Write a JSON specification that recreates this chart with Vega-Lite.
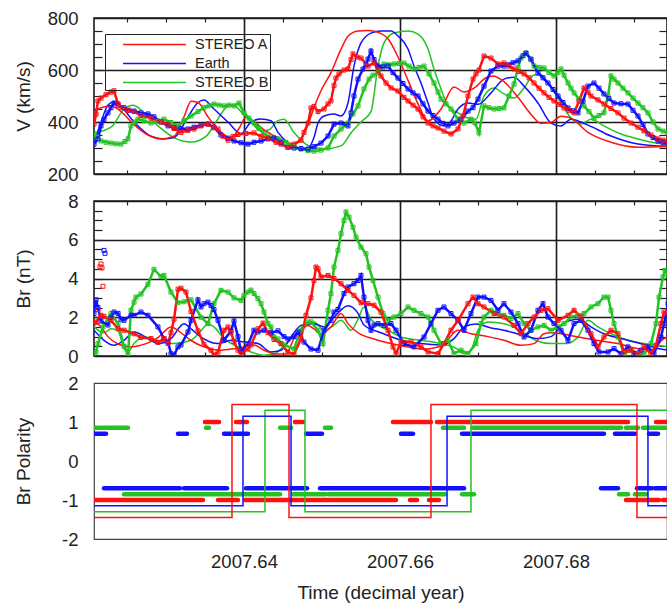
{
"$schema":"https://vega.github.io/schema/vega-lite/v6.json",
"padding":{"left":13,"top":8,"right":0,"bottom":0},
"background":"white",
"config":{
 "font":"Liberation Sans",
 "axis":{"labelFont":"Liberation Sans","titleFont":"Liberation Sans","labelColor":"#222","titleColor":"#222","labelFontSize":18.5,"titleFontSize":19,"titleFontWeight":"normal","tickColor":"#222","tickWidth":1.2,"gridColor":"#1a1a1a","gridWidth":1.6,"gridOpacity":1,"domain":false},
 "legend":{"labelFont":"Liberation Sans"}
},
"spacing":27,
"bounds":"flush",
"resolve":{"scale":{"color":"independent"},"legend":{"color":"independent"}},
"datasets":{
"vmod":[
{"s":"STEREO B","t":2007.62077,"v":358},{"s":"STEREO B","t":2007.62295,"v":380},{"s":"STEREO B","t":2007.62462,"v":449},{"s":"STEREO B","t":2007.62577,"v":464},{"s":"STEREO B","t":2007.62718,"v":436},{"s":"STEREO B","t":2007.62897,"v":385},{"s":"STEREO B","t":2007.63103,"v":340},{"s":"STEREO B","t":2007.63321,"v":323},{"s":"STEREO B","t":2007.63513,"v":345},{"s":"STEREO B","t":2007.63641,"v":400},{"s":"STEREO B","t":2007.63769,"v":455},{"s":"STEREO B","t":2007.63859,"v":465},{"s":"STEREO B","t":2007.63962,"v":440},{"s":"STEREO B","t":2007.6409,"v":400},{"s":"STEREO B","t":2007.64218,"v":365},{"s":"STEREO B","t":2007.64321,"v":370},{"s":"STEREO B","t":2007.64436,"v":405},{"s":"STEREO B","t":2007.64513,"v":411},{"s":"STEREO B","t":2007.64641,"v":360},{"s":"STEREO B","t":2007.64821,"v":310},{"s":"STEREO B","t":2007.65026,"v":296},{"s":"STEREO B","t":2007.65244,"v":308},{"s":"STEREO B","t":2007.65372,"v":358},{"s":"STEREO B","t":2007.655,"v":400},{"s":"STEREO B","t":2007.65628,"v":440},{"s":"STEREO B","t":2007.65718,"v":615},{"s":"STEREO B","t":2007.65795,"v":704},{"s":"STEREO B","t":2007.65923,"v":742},{"s":"STEREO B","t":2007.66103,"v":750},{"s":"STEREO B","t":2007.66231,"v":738},{"s":"STEREO B","t":2007.66359,"v":681},{"s":"STEREO B","t":2007.66436,"v":604},{"s":"STEREO B","t":2007.66526,"v":527},{"s":"STEREO B","t":2007.66615,"v":462},{"s":"STEREO B","t":2007.66744,"v":435},{"s":"STEREO B","t":2007.66872,"v":415},{"s":"STEREO B","t":2007.66974,"v":411},{"s":"STEREO B","t":2007.67077,"v":500},{"s":"STEREO B","t":2007.67205,"v":531},{"s":"STEREO B","t":2007.67333,"v":508},{"s":"STEREO B","t":2007.67462,"v":492},{"s":"STEREO B","t":2007.6759,"v":531},{"s":"STEREO B","t":2007.67718,"v":581},{"s":"STEREO B","t":2007.67808,"v":582},{"s":"STEREO B","t":2007.67897,"v":550},{"s":"STEREO B","t":2007.68064,"v":473},{"s":"STEREO B","t":2007.68192,"v":415},{"s":"STEREO B","t":2007.68321,"v":392},{"s":"STEREO B","t":2007.68449,"v":411},{"s":"STEREO B","t":2007.68615,"v":385},{"s":"STEREO B","t":2007.68833,"v":354},{"s":"STEREO B","t":2007.69051,"v":335},{"s":"STEREO B","t":2007.69308,"v":318},{"s":"STEREO B","t":2007.69436,"v":315},
{"s":"Earth","t":2007.62077,"v":318},{"s":"Earth","t":2007.62167,"v":400},{"s":"Earth","t":2007.62256,"v":465},{"s":"Earth","t":2007.62333,"v":478},{"s":"Earth","t":2007.62423,"v":460},{"s":"Earth","t":2007.6259,"v":400},{"s":"Earth","t":2007.62808,"v":345},{"s":"Earth","t":2007.62974,"v":335},{"s":"Earth","t":2007.63103,"v":340},{"s":"Earth","t":2007.63282,"v":420},{"s":"Earth","t":2007.6341,"v":475},{"s":"Earth","t":2007.63487,"v":485},{"s":"Earth","t":2007.63615,"v":450},{"s":"Earth","t":2007.63795,"v":400},{"s":"Earth","t":2007.63962,"v":355},{"s":"Earth","t":2007.6409,"v":400},{"s":"Earth","t":2007.64218,"v":412},{"s":"Earth","t":2007.64346,"v":405},{"s":"Earth","t":2007.64436,"v":360},{"s":"Earth","t":2007.64564,"v":320},{"s":"Earth","t":2007.64731,"v":298},{"s":"Earth","t":2007.64821,"v":300},{"s":"Earth","t":2007.64897,"v":340},{"s":"Earth","t":2007.64949,"v":396},{"s":"Earth","t":2007.65026,"v":423},{"s":"Earth","t":2007.65154,"v":431},{"s":"Earth","t":2007.65244,"v":423},{"s":"Earth","t":2007.65333,"v":473},{"s":"Earth","t":2007.6541,"v":615},{"s":"Earth","t":2007.655,"v":704},{"s":"Earth","t":2007.65628,"v":742},{"s":"Earth","t":2007.65756,"v":750},{"s":"Earth","t":2007.65885,"v":750},{"s":"Earth","t":2007.65974,"v":731},{"s":"Earth","t":2007.66103,"v":681},{"s":"Earth","t":2007.66179,"v":615},{"s":"Earth","t":2007.66269,"v":550},{"s":"Earth","t":2007.66359,"v":473},{"s":"Earth","t":2007.66436,"v":411},{"s":"Earth","t":2007.66564,"v":385},{"s":"Earth","t":2007.66654,"v":404},{"s":"Earth","t":2007.66744,"v":450},{"s":"Earth","t":2007.66872,"v":473},{"s":"Earth","t":2007.67,"v":468},{"s":"Earth","t":2007.67167,"v":512},{"s":"Earth","t":2007.67333,"v":565},{"s":"Earth","t":2007.67462,"v":572},{"s":"Earth","t":2007.6759,"v":538},{"s":"Earth","t":2007.67769,"v":473},{"s":"Earth","t":2007.67936,"v":396},{"s":"Earth","t":2007.68064,"v":385},{"s":"Earth","t":2007.68192,"v":411},{"s":"Earth","t":2007.6841,"v":388},{"s":"Earth","t":2007.68705,"v":346},{"s":"Earth","t":2007.69051,"v":315},{"s":"Earth","t":2007.69308,"v":308},{"s":"Earth","t":2007.69436,"v":308},
{"s":"STEREO A","t":2007.62077,"v":440},{"s":"STEREO A","t":2007.62167,"v":455},{"s":"STEREO A","t":2007.62295,"v":462},{"s":"STEREO A","t":2007.62423,"v":440},{"s":"STEREO A","t":2007.6259,"v":390},{"s":"STEREO A","t":2007.62769,"v":350},{"s":"STEREO A","t":2007.62936,"v":335},{"s":"STEREO A","t":2007.63103,"v":345},{"s":"STEREO A","t":2007.63231,"v":420},{"s":"STEREO A","t":2007.63321,"v":480},{"s":"STEREO A","t":2007.6341,"v":475},{"s":"STEREO A","t":2007.63538,"v":420},{"s":"STEREO A","t":2007.63705,"v":360},{"s":"STEREO A","t":2007.63833,"v":338},{"s":"STEREO A","t":2007.63936,"v":375},{"s":"STEREO A","t":2007.64026,"v":419},{"s":"STEREO A","t":2007.64128,"v":402},{"s":"STEREO A","t":2007.64256,"v":370},{"s":"STEREO A","t":2007.64436,"v":340},{"s":"STEREO A","t":2007.64641,"v":315},{"s":"STEREO A","t":2007.64731,"v":335},{"s":"STEREO A","t":2007.64821,"v":390},{"s":"STEREO A","t":2007.64897,"v":455},{"s":"STEREO A","t":2007.64987,"v":520},{"s":"STEREO A","t":2007.65115,"v":590},{"s":"STEREO A","t":2007.65244,"v":680},{"s":"STEREO A","t":2007.65333,"v":730},{"s":"STEREO A","t":2007.65462,"v":750},{"s":"STEREO A","t":2007.6559,"v":752},{"s":"STEREO A","t":2007.65718,"v":745},{"s":"STEREO A","t":2007.65846,"v":720},{"s":"STEREO A","t":2007.65974,"v":650},{"s":"STEREO A","t":2007.66103,"v":560},{"s":"STEREO A","t":2007.66231,"v":470},{"s":"STEREO A","t":2007.66359,"v":405},{"s":"STEREO A","t":2007.66526,"v":450},{"s":"STEREO A","t":2007.66692,"v":535},{"s":"STEREO A","t":2007.66821,"v":515},{"s":"STEREO A","t":2007.66949,"v":530},{"s":"STEREO A","t":2007.67103,"v":570},{"s":"STEREO A","t":2007.67192,"v":577},{"s":"STEREO A","t":2007.67333,"v":555},{"s":"STEREO A","t":2007.67513,"v":495},{"s":"STEREO A","t":2007.67679,"v":430},{"s":"STEREO A","t":2007.67808,"v":395},{"s":"STEREO A","t":2007.67936,"v":398},{"s":"STEREO A","t":2007.68064,"v":422},{"s":"STEREO A","t":2007.68192,"v":415},{"s":"STEREO A","t":2007.6841,"v":360},{"s":"STEREO A","t":2007.68705,"v":322},{"s":"STEREO A","t":2007.69051,"v":303},{"s":"STEREO A","t":2007.69436,"v":306}
],
"vobs":[
{"s":"STEREO B","t":2007.62077,"v":354},{"s":"STEREO B","t":2007.62115,"v":340},{"s":"STEREO B","t":2007.62167,"v":327},{"s":"STEREO B","t":2007.62231,"v":322},{"s":"STEREO B","t":2007.62295,"v":319},{"s":"STEREO B","t":2007.62359,"v":316},{"s":"STEREO B","t":2007.62423,"v":315},{"s":"STEREO B","t":2007.62474,"v":325},{"s":"STEREO B","t":2007.62513,"v":335},{"s":"STEREO B","t":2007.62551,"v":385},{"s":"STEREO B","t":2007.62603,"v":400},{"s":"STEREO B","t":2007.62641,"v":411},{"s":"STEREO B","t":2007.62718,"v":405},{"s":"STEREO B","t":2007.62808,"v":396},{"s":"STEREO B","t":2007.62897,"v":404},{"s":"STEREO B","t":2007.62974,"v":411},{"s":"STEREO B","t":2007.63064,"v":398},{"s":"STEREO B","t":2007.63154,"v":385},{"s":"STEREO B","t":2007.63231,"v":405},{"s":"STEREO B","t":2007.63321,"v":423},{"s":"STEREO B","t":2007.6341,"v":440},{"s":"STEREO B","t":2007.63487,"v":455},{"s":"STEREO B","t":2007.63551,"v":462},{"s":"STEREO B","t":2007.63615,"v":469},{"s":"STEREO B","t":2007.6368,"v":465},{"s":"STEREO B","t":2007.63744,"v":462},{"s":"STEREO B","t":2007.63808,"v":465},{"s":"STEREO B","t":2007.63872,"v":462},{"s":"STEREO B","t":2007.63936,"v":473},{"s":"STEREO B","t":2007.64,"v":435},{"s":"STEREO B","t":2007.64064,"v":415},{"s":"STEREO B","t":2007.64128,"v":396},{"s":"STEREO B","t":2007.64192,"v":375},{"s":"STEREO B","t":2007.64256,"v":354},{"s":"STEREO B","t":2007.64346,"v":342},{"s":"STEREO B","t":2007.64436,"v":335},{"s":"STEREO B","t":2007.64538,"v":322},{"s":"STEREO B","t":2007.64641,"v":305},{"s":"STEREO B","t":2007.64731,"v":296},{"s":"STEREO B","t":2007.64821,"v":290},{"s":"STEREO B","t":2007.64897,"v":288},{"s":"STEREO B","t":2007.64987,"v":292},{"s":"STEREO B","t":2007.65077,"v":300},{"s":"STEREO B","t":2007.65154,"v":346},{"s":"STEREO B","t":2007.65244,"v":373},{"s":"STEREO B","t":2007.65333,"v":396},{"s":"STEREO B","t":2007.65397,"v":431},{"s":"STEREO B","t":2007.65462,"v":462},{"s":"STEREO B","t":2007.65538,"v":527},{"s":"STEREO B","t":2007.65603,"v":565},{"s":"STEREO B","t":2007.65654,"v":580},{"s":"STEREO B","t":2007.65718,"v":589},{"s":"STEREO B","t":2007.65795,"v":623},{"s":"STEREO B","t":2007.65859,"v":620},{"s":"STEREO B","t":2007.65923,"v":623},{"s":"STEREO B","t":2007.65987,"v":625},{"s":"STEREO B","t":2007.66051,"v":627},{"s":"STEREO B","t":2007.66115,"v":615},{"s":"STEREO B","t":2007.66179,"v":604},{"s":"STEREO B","t":2007.66244,"v":610},{"s":"STEREO B","t":2007.66308,"v":615},{"s":"STEREO B","t":2007.66372,"v":585},{"s":"STEREO B","t":2007.66436,"v":550},{"s":"STEREO B","t":2007.66487,"v":515},{"s":"STEREO B","t":2007.66526,"v":488},{"s":"STEREO B","t":2007.6659,"v":470},{"s":"STEREO B","t":2007.66654,"v":450},{"s":"STEREO B","t":2007.66744,"v":411},{"s":"STEREO B","t":2007.66821,"v":396},{"s":"STEREO B","t":2007.6691,"v":411},{"s":"STEREO B","t":2007.66962,"v":396},{"s":"STEREO B","t":2007.67013,"v":358},{"s":"STEREO B","t":2007.67077,"v":462},{"s":"STEREO B","t":2007.67141,"v":455},{"s":"STEREO B","t":2007.67205,"v":450},{"s":"STEREO B","t":2007.67269,"v":452},{"s":"STEREO B","t":2007.67333,"v":454},{"s":"STEREO B","t":2007.67397,"v":500},{"s":"STEREO B","t":2007.67462,"v":546},{"s":"STEREO B","t":2007.67513,"v":610},{"s":"STEREO B","t":2007.67551,"v":646},{"s":"STEREO B","t":2007.67615,"v":665},{"s":"STEREO B","t":2007.67679,"v":640},{"s":"STEREO B","t":2007.67718,"v":615},{"s":"STEREO B","t":2007.67782,"v":610},{"s":"STEREO B","t":2007.67846,"v":608},{"s":"STEREO B","t":2007.6791,"v":590},{"s":"STEREO B","t":2007.67974,"v":577},{"s":"STEREO B","t":2007.68026,"v":590},{"s":"STEREO B","t":2007.68064,"v":604},{"s":"STEREO B","t":2007.68103,"v":580},{"s":"STEREO B","t":2007.68154,"v":550},{"s":"STEREO B","t":2007.68192,"v":530},{"s":"STEREO B","t":2007.68231,"v":512},{"s":"STEREO B","t":2007.68295,"v":488},{"s":"STEREO B","t":2007.68359,"v":462},{"s":"STEREO B","t":2007.68423,"v":440},{"s":"STEREO B","t":2007.68487,"v":415},{"s":"STEREO B","t":2007.68551,"v":425},{"s":"STEREO B","t":2007.68615,"v":435},{"s":"STEREO B","t":2007.68667,"v":500},{"s":"STEREO B","t":2007.68705,"v":577},{"s":"STEREO B","t":2007.68744,"v":565},{"s":"STEREO B","t":2007.68795,"v":550},{"s":"STEREO B","t":2007.68859,"v":530},{"s":"STEREO B","t":2007.68923,"v":512},{"s":"STEREO B","t":2007.68987,"v":492},{"s":"STEREO B","t":2007.69051,"v":473},{"s":"STEREO B","t":2007.69115,"v":455},{"s":"STEREO B","t":2007.69179,"v":435},{"s":"STEREO B","t":2007.69244,"v":400},{"s":"STEREO B","t":2007.69308,"v":373},{"s":"STEREO B","t":2007.69372,"v":365},{"s":"STEREO B","t":2007.69436,"v":358},
{"s":"Earth","t":2007.62077,"v":315},{"s":"Earth","t":2007.62128,"v":335},{"s":"Earth","t":2007.62167,"v":385},{"s":"Earth","t":2007.62205,"v":410},{"s":"Earth","t":2007.62256,"v":435},{"s":"Earth","t":2007.62295,"v":455},{"s":"Earth","t":2007.62333,"v":473},{"s":"Earth","t":2007.62385,"v":465},{"s":"Earth","t":2007.62462,"v":455},{"s":"Earth","t":2007.62526,"v":445},{"s":"Earth","t":2007.6259,"v":442},{"s":"Earth","t":2007.62679,"v":435},{"s":"Earth","t":2007.62769,"v":431},{"s":"Earth","t":2007.62846,"v":420},{"s":"Earth","t":2007.62936,"v":400},{"s":"Earth","t":2007.63026,"v":385},{"s":"Earth","t":2007.63103,"v":378},{"s":"Earth","t":2007.63192,"v":375},{"s":"Earth","t":2007.63282,"v":373},{"s":"Earth","t":2007.63359,"v":380},{"s":"Earth","t":2007.63449,"v":388},{"s":"Earth","t":2007.63538,"v":392},{"s":"Earth","t":2007.63615,"v":380},{"s":"Earth","t":2007.63705,"v":350},{"s":"Earth","t":2007.63795,"v":338},{"s":"Earth","t":2007.63872,"v":327},{"s":"Earth","t":2007.63962,"v":320},{"s":"Earth","t":2007.64051,"v":315},{"s":"Earth","t":2007.64128,"v":322},{"s":"Earth","t":2007.64218,"v":327},{"s":"Earth","t":2007.64308,"v":335},{"s":"Earth","t":2007.64385,"v":338},{"s":"Earth","t":2007.64474,"v":320},{"s":"Earth","t":2007.64564,"v":302},{"s":"Earth","t":2007.64641,"v":300},{"s":"Earth","t":2007.64731,"v":298},{"s":"Earth","t":2007.64821,"v":296},{"s":"Earth","t":2007.64897,"v":305},{"s":"Earth","t":2007.64987,"v":319},{"s":"Earth","t":2007.65077,"v":346},{"s":"Earth","t":2007.65154,"v":392},{"s":"Earth","t":2007.65244,"v":396},{"s":"Earth","t":2007.65333,"v":385},{"s":"Earth","t":2007.65372,"v":435},{"s":"Earth","t":2007.6541,"v":500},{"s":"Earth","t":2007.65462,"v":565},{"s":"Earth","t":2007.65526,"v":604},{"s":"Earth","t":2007.65564,"v":620},{"s":"Earth","t":2007.6559,"v":642},{"s":"Earth","t":2007.65628,"v":673},{"s":"Earth","t":2007.65667,"v":640},{"s":"Earth","t":2007.65718,"v":615},{"s":"Earth","t":2007.65782,"v":612},{"s":"Earth","t":2007.65846,"v":615},{"s":"Earth","t":2007.6591,"v":590},{"s":"Earth","t":2007.65974,"v":569},{"s":"Earth","t":2007.66038,"v":548},{"s":"Earth","t":2007.66103,"v":527},{"s":"Earth","t":2007.66167,"v":512},{"s":"Earth","t":2007.66231,"v":500},{"s":"Earth","t":2007.66295,"v":470},{"s":"Earth","t":2007.66359,"v":442},{"s":"Earth","t":2007.66423,"v":425},{"s":"Earth","t":2007.66487,"v":411},{"s":"Earth","t":2007.66551,"v":395},{"s":"Earth","t":2007.66615,"v":385},{"s":"Earth","t":2007.66692,"v":396},{"s":"Earth","t":2007.66782,"v":411},{"s":"Earth","t":2007.66872,"v":442},{"s":"Earth","t":2007.66936,"v":455},{"s":"Earth","t":2007.67,"v":488},{"s":"Earth","t":2007.67077,"v":538},{"s":"Earth","t":2007.67167,"v":596},{"s":"Earth","t":2007.67256,"v":615},{"s":"Earth","t":2007.67333,"v":615},{"s":"Earth","t":2007.67385,"v":620},{"s":"Earth","t":2007.67449,"v":628},{"s":"Earth","t":2007.67513,"v":635},{"s":"Earth","t":2007.67577,"v":655},{"s":"Earth","t":2007.67615,"v":665},{"s":"Earth","t":2007.67679,"v":642},{"s":"Earth","t":2007.67769,"v":589},{"s":"Earth","t":2007.67833,"v":570},{"s":"Earth","t":2007.67897,"v":550},{"s":"Earth","t":2007.67962,"v":525},{"s":"Earth","t":2007.68026,"v":500},{"s":"Earth","t":2007.6809,"v":475},{"s":"Earth","t":2007.68154,"v":454},{"s":"Earth","t":2007.68218,"v":443},{"s":"Earth","t":2007.68282,"v":435},{"s":"Earth","t":2007.68346,"v":480},{"s":"Earth","t":2007.6841,"v":538},{"s":"Earth","t":2007.68487,"v":550},{"s":"Earth","t":2007.68551,"v":530},{"s":"Earth","t":2007.68615,"v":508},{"s":"Earth","t":2007.68679,"v":490},{"s":"Earth","t":2007.68744,"v":473},{"s":"Earth","t":2007.68833,"v":470},{"s":"Earth","t":2007.68923,"v":469},{"s":"Earth","t":2007.68987,"v":445},{"s":"Earth","t":2007.69051,"v":423},{"s":"Earth","t":2007.69115,"v":390},{"s":"Earth","t":2007.69179,"v":354},{"s":"Earth","t":2007.69244,"v":340},{"s":"Earth","t":2007.69308,"v":327},{"s":"Earth","t":2007.69372,"v":322},{"s":"Earth","t":2007.69436,"v":319},
{"s":"STEREO A","t":2007.62077,"v":392},{"s":"STEREO A","t":2007.62103,"v":430},{"s":"STEREO A","t":2007.62128,"v":481},{"s":"STEREO A","t":2007.62167,"v":492},{"s":"STEREO A","t":2007.62231,"v":505},{"s":"STEREO A","t":2007.62295,"v":515},{"s":"STEREO A","t":2007.62333,"v":520},{"s":"STEREO A","t":2007.62385,"v":470},{"s":"STEREO A","t":2007.62423,"v":455},{"s":"STEREO A","t":2007.62513,"v":445},{"s":"STEREO A","t":2007.6259,"v":440},{"s":"STEREO A","t":2007.62679,"v":425},{"s":"STEREO A","t":2007.62808,"v":415},{"s":"STEREO A","t":2007.62936,"v":400},{"s":"STEREO A","t":2007.63026,"v":392},{"s":"STEREO A","t":2007.63103,"v":375},{"s":"STEREO A","t":2007.63192,"v":360},{"s":"STEREO A","t":2007.63282,"v":368},{"s":"STEREO A","t":2007.63359,"v":373},{"s":"STEREO A","t":2007.63449,"v":385},{"s":"STEREO A","t":2007.63538,"v":392},{"s":"STEREO A","t":2007.63615,"v":378},{"s":"STEREO A","t":2007.63667,"v":373},{"s":"STEREO A","t":2007.63731,"v":345},{"s":"STEREO A","t":2007.63795,"v":330},{"s":"STEREO A","t":2007.63859,"v":345},{"s":"STEREO A","t":2007.63923,"v":352},{"s":"STEREO A","t":2007.64026,"v":356},{"s":"STEREO A","t":2007.64128,"v":358},{"s":"STEREO A","t":2007.64218,"v":345},{"s":"STEREO A","t":2007.64308,"v":338},{"s":"STEREO A","t":2007.6441,"v":322},{"s":"STEREO A","t":2007.64474,"v":315},{"s":"STEREO A","t":2007.64564,"v":302},{"s":"STEREO A","t":2007.64641,"v":315},{"s":"STEREO A","t":2007.64731,"v":330},{"s":"STEREO A","t":2007.64769,"v":360},{"s":"STEREO A","t":2007.64821,"v":396},{"s":"STEREO A","t":2007.64859,"v":454},{"s":"STEREO A","t":2007.64897,"v":460},{"s":"STEREO A","t":2007.64949,"v":440},{"s":"STEREO A","t":2007.65026,"v":450},{"s":"STEREO A","t":2007.65077,"v":470},{"s":"STEREO A","t":2007.65115,"v":481},{"s":"STEREO A","t":2007.65154,"v":540},{"s":"STEREO A","t":2007.65179,"v":569},{"s":"STEREO A","t":2007.65218,"v":585},{"s":"STEREO A","t":2007.65282,"v":600},{"s":"STEREO A","t":2007.65333,"v":604},{"s":"STEREO A","t":2007.65372,"v":640},{"s":"STEREO A","t":2007.65397,"v":662},{"s":"STEREO A","t":2007.65449,"v":650},{"s":"STEREO A","t":2007.655,"v":646},{"s":"STEREO A","t":2007.6559,"v":615},{"s":"STEREO A","t":2007.65667,"v":627},{"s":"STEREO A","t":2007.65718,"v":600},{"s":"STEREO A","t":2007.65756,"v":577},{"s":"STEREO A","t":2007.65821,"v":550},{"s":"STEREO A","t":2007.65885,"v":531},{"s":"STEREO A","t":2007.65974,"v":519},{"s":"STEREO A","t":2007.66051,"v":495},{"s":"STEREO A","t":2007.66103,"v":481},{"s":"STEREO A","t":2007.66167,"v":465},{"s":"STEREO A","t":2007.66231,"v":450},{"s":"STEREO A","t":2007.66295,"v":420},{"s":"STEREO A","t":2007.66359,"v":396},{"s":"STEREO A","t":2007.66423,"v":385},{"s":"STEREO A","t":2007.66487,"v":377},{"s":"STEREO A","t":2007.66564,"v":365},{"s":"STEREO A","t":2007.66654,"v":354},{"s":"STEREO A","t":2007.66744,"v":373},{"s":"STEREO A","t":2007.66808,"v":423},{"s":"STEREO A","t":2007.66872,"v":500},{"s":"STEREO A","t":2007.66936,"v":565},{"s":"STEREO A","t":2007.66974,"v":585},{"s":"STEREO A","t":2007.67013,"v":600},{"s":"STEREO A","t":2007.67077,"v":654},{"s":"STEREO A","t":2007.67167,"v":646},{"s":"STEREO A","t":2007.67256,"v":623},{"s":"STEREO A","t":2007.67333,"v":627},{"s":"STEREO A","t":2007.67397,"v":615},{"s":"STEREO A","t":2007.67462,"v":604},{"s":"STEREO A","t":2007.67526,"v":595},{"s":"STEREO A","t":2007.6759,"v":585},{"s":"STEREO A","t":2007.67654,"v":570},{"s":"STEREO A","t":2007.67718,"v":550},{"s":"STEREO A","t":2007.67782,"v":530},{"s":"STEREO A","t":2007.67846,"v":512},{"s":"STEREO A","t":2007.6791,"v":495},{"s":"STEREO A","t":2007.67974,"v":481},{"s":"STEREO A","t":2007.68038,"v":468},{"s":"STEREO A","t":2007.68103,"v":454},{"s":"STEREO A","t":2007.68167,"v":445},{"s":"STEREO A","t":2007.68231,"v":435},{"s":"STEREO A","t":2007.68295,"v":480},{"s":"STEREO A","t":2007.68359,"v":531},{"s":"STEREO A","t":2007.6841,"v":515},{"s":"STEREO A","t":2007.68449,"v":500},{"s":"STEREO A","t":2007.68538,"v":485},{"s":"STEREO A","t":2007.68615,"v":469},{"s":"STEREO A","t":2007.68705,"v":452},{"s":"STEREO A","t":2007.68795,"v":435},{"s":"STEREO A","t":2007.68872,"v":415},{"s":"STEREO A","t":2007.68962,"v":396},{"s":"STEREO A","t":2007.69051,"v":380},{"s":"STEREO A","t":2007.69128,"v":366},{"s":"STEREO A","t":2007.69218,"v":350},{"s":"STEREO A","t":2007.69308,"v":335},{"s":"STEREO A","t":2007.69372,"v":330},{"s":"STEREO A","t":2007.69436,"v":327}
],
"bmod":[
{"s":"STEREO B","t":2007.62077,"v":1.5},{"s":"STEREO B","t":2007.62205,"v":1.2},{"s":"STEREO B","t":2007.62295,"v":1.41},{"s":"STEREO B","t":2007.62385,"v":1.3},{"s":"STEREO B","t":2007.62462,"v":0.38},{"s":"STEREO B","t":2007.62513,"v":0.21},{"s":"STEREO B","t":2007.6259,"v":0.64},{"s":"STEREO B","t":2007.62718,"v":0.98},{"s":"STEREO B","t":2007.62897,"v":0.8},{"s":"STEREO B","t":2007.63103,"v":0.64},{"s":"STEREO B","t":2007.63321,"v":0.81},{"s":"STEREO B","t":2007.63449,"v":1.3},{"s":"STEREO B","t":2007.63538,"v":1.67},{"s":"STEREO B","t":2007.63615,"v":1.5},{"s":"STEREO B","t":2007.63744,"v":0.9},{"s":"STEREO B","t":2007.63923,"v":0.47},{"s":"STEREO B","t":2007.6409,"v":0.21},{"s":"STEREO B","t":2007.64256,"v":0.04},{"s":"STEREO B","t":2007.64385,"v":0.1},{"s":"STEREO B","t":2007.64538,"v":0.64},{"s":"STEREO B","t":2007.64641,"v":1.0},{"s":"STEREO B","t":2007.64821,"v":1.67},{"s":"STEREO B","t":2007.64897,"v":1.76},{"s":"STEREO B","t":2007.65026,"v":1.33},{"s":"STEREO B","t":2007.65154,"v":1.6},{"s":"STEREO B","t":2007.65244,"v":1.84},{"s":"STEREO B","t":2007.65372,"v":1.33},{"s":"STEREO B","t":2007.65462,"v":1.9},{"s":"STEREO B","t":2007.65538,"v":2.53},{"s":"STEREO B","t":2007.65628,"v":1.9},{"s":"STEREO B","t":2007.65846,"v":1.33},{"s":"STEREO B","t":2007.66013,"v":0.98},{"s":"STEREO B","t":2007.66269,"v":0.81},{"s":"STEREO B","t":2007.66526,"v":0.64},{"s":"STEREO B","t":2007.66718,"v":0.4},{"s":"STEREO B","t":2007.66821,"v":0.12},{"s":"STEREO B","t":2007.6691,"v":0.3},{"s":"STEREO B","t":2007.67,"v":1.33},{"s":"STEREO B","t":2007.67128,"v":1.75},{"s":"STEREO B","t":2007.67333,"v":1.67},{"s":"STEREO B","t":2007.67551,"v":1.3},{"s":"STEREO B","t":2007.67744,"v":0.8},{"s":"STEREO B","t":2007.67936,"v":0.64},{"s":"STEREO B","t":2007.68128,"v":0.64},{"s":"STEREO B","t":2007.68282,"v":0.98},{"s":"STEREO B","t":2007.6841,"v":1.84},{"s":"STEREO B","t":2007.68538,"v":1.5},{"s":"STEREO B","t":2007.68705,"v":1.15},{"s":"STEREO B","t":2007.68923,"v":0.81},{"s":"STEREO B","t":2007.69128,"v":0.64},{"s":"STEREO B","t":2007.69308,"v":0.55},{"s":"STEREO B","t":2007.69436,"v":0.47},
{"s":"Earth","t":2007.62077,"v":1.33},{"s":"Earth","t":2007.62205,"v":0.81},{"s":"Earth","t":2007.62333,"v":0.55},{"s":"Earth","t":2007.62462,"v":0.81},{"s":"Earth","t":2007.6259,"v":1.24},{"s":"Earth","t":2007.62769,"v":0.9},{"s":"Earth","t":2007.62897,"v":0.64},{"s":"Earth","t":2007.63064,"v":0.9},{"s":"Earth","t":2007.63231,"v":1.67},{"s":"Earth","t":2007.63321,"v":1.4},{"s":"Earth","t":2007.63449,"v":0.98},{"s":"Earth","t":2007.63667,"v":0.64},{"s":"Earth","t":2007.63833,"v":0.81},{"s":"Earth","t":2007.64,"v":0.73},{"s":"Earth","t":2007.64179,"v":0.64},{"s":"Earth","t":2007.64346,"v":0.21},{"s":"Earth","t":2007.64474,"v":0.3},{"s":"Earth","t":2007.64641,"v":1.2},{"s":"Earth","t":2007.64731,"v":1.58},{"s":"Earth","t":2007.64897,"v":1.67},{"s":"Earth","t":2007.65026,"v":1.5},{"s":"Earth","t":2007.65154,"v":2.01},{"s":"Earth","t":2007.65333,"v":2.6},{"s":"Earth","t":2007.65462,"v":2.2},{"s":"Earth","t":2007.65538,"v":1.6},{"s":"Earth","t":2007.65756,"v":1.2},{"s":"Earth","t":2007.66013,"v":0.82},{"s":"Earth","t":2007.66269,"v":0.64},{"s":"Earth","t":2007.66526,"v":0.57},{"s":"Earth","t":2007.66692,"v":0.9},{"s":"Earth","t":2007.66821,"v":1.5},{"s":"Earth","t":2007.66974,"v":1.65},{"s":"Earth","t":2007.67167,"v":1.45},{"s":"Earth","t":2007.67333,"v":1.33},{"s":"Earth","t":2007.67551,"v":1.1},{"s":"Earth","t":2007.67769,"v":0.9},{"s":"Earth","t":2007.67936,"v":1.0},{"s":"Earth","t":2007.68103,"v":1.7},{"s":"Earth","t":2007.68282,"v":1.9},{"s":"Earth","t":2007.68449,"v":1.5},{"s":"Earth","t":2007.68615,"v":1.15},{"s":"Earth","t":2007.68833,"v":0.9},{"s":"Earth","t":2007.69128,"v":0.6},{"s":"Earth","t":2007.69346,"v":0.36},{"s":"Earth","t":2007.69436,"v":0.3},
{"s":"STEREO A","t":2007.62077,"v":1.8},{"s":"STEREO A","t":2007.62167,"v":1.5},{"s":"STEREO A","t":2007.62256,"v":1.0},{"s":"STEREO A","t":2007.62385,"v":0.62},{"s":"STEREO A","t":2007.62551,"v":0.47},{"s":"STEREO A","t":2007.62718,"v":0.6},{"s":"STEREO A","t":2007.62897,"v":0.95},{"s":"STEREO A","t":2007.63064,"v":1.5},{"s":"STEREO A","t":2007.63192,"v":1.2},{"s":"STEREO A","t":2007.63321,"v":0.8},{"s":"STEREO A","t":2007.63487,"v":0.47},{"s":"STEREO A","t":2007.63705,"v":0.3},{"s":"STEREO A","t":2007.63872,"v":0.38},{"s":"STEREO A","t":2007.64,"v":0.47},{"s":"STEREO A","t":2007.64128,"v":0.57},{"s":"STEREO A","t":2007.64256,"v":0.3},{"s":"STEREO A","t":2007.6441,"v":0.1},{"s":"STEREO A","t":2007.64538,"v":0.1},{"s":"STEREO A","t":2007.64641,"v":0.9},{"s":"STEREO A","t":2007.64731,"v":1.3},{"s":"STEREO A","t":2007.64821,"v":1.58},{"s":"STEREO A","t":2007.64897,"v":1.4},{"s":"STEREO A","t":2007.64987,"v":1.15},{"s":"STEREO A","t":2007.65115,"v":1.5},{"s":"STEREO A","t":2007.65244,"v":2.19},{"s":"STEREO A","t":2007.65333,"v":1.67},{"s":"STEREO A","t":2007.65462,"v":1.2},{"s":"STEREO A","t":2007.65667,"v":0.88},{"s":"STEREO A","t":2007.65974,"v":0.57},{"s":"STEREO A","t":2007.66308,"v":0.36},{"s":"STEREO A","t":2007.66526,"v":0.5},{"s":"STEREO A","t":2007.66744,"v":1.33},{"s":"STEREO A","t":2007.6691,"v":1.15},{"s":"STEREO A","t":2007.67128,"v":1.0},{"s":"STEREO A","t":2007.67333,"v":0.81},{"s":"STEREO A","t":2007.67551,"v":0.55},{"s":"STEREO A","t":2007.67718,"v":0.64},{"s":"STEREO A","t":2007.67846,"v":1.15},{"s":"STEREO A","t":2007.67936,"v":1.2},{"s":"STEREO A","t":2007.68064,"v":1.15},{"s":"STEREO A","t":2007.68282,"v":0.98},{"s":"STEREO A","t":2007.68538,"v":0.8},{"s":"STEREO A","t":2007.68795,"v":0.64},{"s":"STEREO A","t":2007.69051,"v":0.38},{"s":"STEREO A","t":2007.69218,"v":0.3},{"s":"STEREO A","t":2007.69385,"v":0.9},{"s":"STEREO A","t":2007.69436,"v":1.0}
],
"bobs":[
{"s":"STEREO B","t":2007.62077,"v":0.15},{"s":"STEREO B","t":2007.62103,"v":0.2},{"s":"STEREO B","t":2007.62128,"v":0.64},{"s":"STEREO B","t":2007.62192,"v":1.5},{"s":"STEREO B","t":2007.62256,"v":1.9},{"s":"STEREO B","t":2007.62295,"v":2.19},{"s":"STEREO B","t":2007.62385,"v":1.67},{"s":"STEREO B","t":2007.62462,"v":0.5},{"s":"STEREO B","t":2007.62513,"v":0.08},{"s":"STEREO B","t":2007.62551,"v":2.36},{"s":"STEREO B","t":2007.6259,"v":2.78},{"s":"STEREO B","t":2007.62615,"v":3.04},{"s":"STEREO B","t":2007.62679,"v":3.2},{"s":"STEREO B","t":2007.62769,"v":3.7},{"s":"STEREO B","t":2007.62846,"v":4.47},{"s":"STEREO B","t":2007.62936,"v":4.1},{"s":"STEREO B","t":2007.62974,"v":4.16},{"s":"STEREO B","t":2007.63064,"v":3.3},{"s":"STEREO B","t":2007.63154,"v":2.75},{"s":"STEREO B","t":2007.63231,"v":2.8},{"s":"STEREO B","t":2007.63321,"v":2.9},{"s":"STEREO B","t":2007.63449,"v":2.0},{"s":"STEREO B","t":2007.63538,"v":1.67},{"s":"STEREO B","t":2007.63615,"v":2.7},{"s":"STEREO B","t":2007.63705,"v":3.39},{"s":"STEREO B","t":2007.63795,"v":3.3},{"s":"STEREO B","t":2007.63872,"v":3.0},{"s":"STEREO B","t":2007.63962,"v":2.87},{"s":"STEREO B","t":2007.64,"v":3.13},{"s":"STEREO B","t":2007.64051,"v":3.3},{"s":"STEREO B","t":2007.6409,"v":3.4},{"s":"STEREO B","t":2007.64128,"v":3.22},{"s":"STEREO B","t":2007.64179,"v":2.96},{"s":"STEREO B","t":2007.64218,"v":2.7},{"s":"STEREO B","t":2007.64256,"v":2.27},{"s":"STEREO B","t":2007.64308,"v":1.67},{"s":"STEREO B","t":2007.64346,"v":1.5},{"s":"STEREO B","t":2007.64385,"v":0.98},{"s":"STEREO B","t":2007.64436,"v":0.88},{"s":"STEREO B","t":2007.64474,"v":0.64},{"s":"STEREO B","t":2007.64513,"v":0.57},{"s":"STEREO B","t":2007.64641,"v":0.36},{"s":"STEREO B","t":2007.64731,"v":1.4},{"s":"STEREO B","t":2007.64821,"v":1.75},{"s":"STEREO B","t":2007.64859,"v":1.76},{"s":"STEREO B","t":2007.64949,"v":1.33},{"s":"STEREO B","t":2007.65013,"v":0.64},{"s":"STEREO B","t":2007.65077,"v":2.36},{"s":"STEREO B","t":2007.65115,"v":3.22},{"s":"STEREO B","t":2007.65154,"v":4.59},{"s":"STEREO B","t":2007.65205,"v":5.45},{"s":"STEREO B","t":2007.65244,"v":6.31},{"s":"STEREO B","t":2007.65282,"v":6.99},{"s":"STEREO B","t":2007.65308,"v":7.43},{"s":"STEREO B","t":2007.65346,"v":7.17},{"s":"STEREO B","t":2007.65397,"v":6.65},{"s":"STEREO B","t":2007.65436,"v":6.14},{"s":"STEREO B","t":2007.655,"v":5.62},{"s":"STEREO B","t":2007.65564,"v":5.28},{"s":"STEREO B","t":2007.65603,"v":4.59},{"s":"STEREO B","t":2007.65654,"v":3.9},{"s":"STEREO B","t":2007.65718,"v":3.04},{"s":"STEREO B","t":2007.65782,"v":2.19},{"s":"STEREO B","t":2007.65846,"v":1.84},{"s":"STEREO B","t":2007.65923,"v":2.01},{"s":"STEREO B","t":2007.66013,"v":2.19},{"s":"STEREO B","t":2007.66103,"v":2.53},{"s":"STEREO B","t":2007.66179,"v":2.36},{"s":"STEREO B","t":2007.66269,"v":2.19},{"s":"STEREO B","t":2007.66359,"v":2.01},{"s":"STEREO B","t":2007.66436,"v":1.33},{"s":"STEREO B","t":2007.66526,"v":0.64},{"s":"STEREO B","t":2007.66615,"v":0.81},{"s":"STEREO B","t":2007.66692,"v":0.12},{"s":"STEREO B","t":2007.66782,"v":0.3},{"s":"STEREO B","t":2007.66872,"v":0.12},{"s":"STEREO B","t":2007.66974,"v":0.64},{"s":"STEREO B","t":2007.67038,"v":1.67},{"s":"STEREO B","t":2007.67077,"v":2.01},{"s":"STEREO B","t":2007.67167,"v":2.36},{"s":"STEREO B","t":2007.67256,"v":2.19},{"s":"STEREO B","t":2007.67333,"v":2.1},{"s":"STEREO B","t":2007.67423,"v":1.93},{"s":"STEREO B","t":2007.67513,"v":2.19},{"s":"STEREO B","t":2007.6759,"v":1.67},{"s":"STEREO B","t":2007.67679,"v":1.33},{"s":"STEREO B","t":2007.67769,"v":1.5},{"s":"STEREO B","t":2007.67846,"v":1.58},{"s":"STEREO B","t":2007.67936,"v":1.33},{"s":"STEREO B","t":2007.68026,"v":1.5},{"s":"STEREO B","t":2007.68103,"v":1.67},{"s":"STEREO B","t":2007.68192,"v":2.01},{"s":"STEREO B","t":2007.68282,"v":2.1},{"s":"STEREO B","t":2007.68359,"v":2.19},{"s":"STEREO B","t":2007.68449,"v":2.53},{"s":"STEREO B","t":2007.68538,"v":2.7},{"s":"STEREO B","t":2007.68615,"v":3.04},{"s":"STEREO B","t":2007.68667,"v":3.04},{"s":"STEREO B","t":2007.68705,"v":2.36},{"s":"STEREO B","t":2007.68744,"v":1.67},{"s":"STEREO B","t":2007.68795,"v":0.98},{"s":"STEREO B","t":2007.68872,"v":0.12},{"s":"STEREO B","t":2007.68962,"v":0.3},{"s":"STEREO B","t":2007.69051,"v":0.12},{"s":"STEREO B","t":2007.69128,"v":0.12},{"s":"STEREO B","t":2007.69218,"v":0.64},{"s":"STEREO B","t":2007.69282,"v":1.67},{"s":"STEREO B","t":2007.69321,"v":3.04},{"s":"STEREO B","t":2007.69372,"v":4.08},{"s":"STEREO B","t":2007.69397,"v":4.42},{"s":"STEREO B","t":2007.69436,"v":4.2},
{"s":"Earth","t":2007.62077,"v":2.2},{"s":"Earth","t":2007.62103,"v":2.9},{"s":"Earth","t":2007.62128,"v":2.5},{"s":"Earth","t":2007.62167,"v":1.8},{"s":"Earth","t":2007.62256,"v":1.6},{"s":"Earth","t":2007.62295,"v":2.0},{"s":"Earth","t":2007.62333,"v":2.27},{"s":"Earth","t":2007.62385,"v":2.2},{"s":"Earth","t":2007.62423,"v":1.9},{"s":"Earth","t":2007.62462,"v":1.84},{"s":"Earth","t":2007.62551,"v":2.1},{"s":"Earth","t":2007.6259,"v":2.1},{"s":"Earth","t":2007.62679,"v":2.27},{"s":"Earth","t":2007.62769,"v":2.1},{"s":"Earth","t":2007.62897,"v":1.5},{"s":"Earth","t":2007.62974,"v":0.9},{"s":"Earth","t":2007.63026,"v":0.72},{"s":"Earth","t":2007.63064,"v":0.12},{"s":"Earth","t":2007.63103,"v":0.05},{"s":"Earth","t":2007.63154,"v":0.47},{"s":"Earth","t":2007.63192,"v":0.57},{"s":"Earth","t":2007.63282,"v":1.24},{"s":"Earth","t":2007.63321,"v":1.84},{"s":"Earth","t":2007.6341,"v":2.9},{"s":"Earth","t":2007.63449,"v":2.53},{"s":"Earth","t":2007.63487,"v":2.7},{"s":"Earth","t":2007.63538,"v":2.78},{"s":"Earth","t":2007.63577,"v":2.6},{"s":"Earth","t":2007.63615,"v":2.4},{"s":"Earth","t":2007.63667,"v":1.84},{"s":"Earth","t":2007.63744,"v":0.81},{"s":"Earth","t":2007.63833,"v":1.3},{"s":"Earth","t":2007.63872,"v":1.8},{"s":"Earth","t":2007.63923,"v":1.0},{"s":"Earth","t":2007.63962,"v":0.25},{"s":"Earth","t":2007.64051,"v":0.6},{"s":"Earth","t":2007.64128,"v":1.33},{"s":"Earth","t":2007.64179,"v":1.24},{"s":"Earth","t":2007.64256,"v":1.33},{"s":"Earth","t":2007.64346,"v":1.2},{"s":"Earth","t":2007.64436,"v":1.3},{"s":"Earth","t":2007.64513,"v":1.0},{"s":"Earth","t":2007.64564,"v":0.88},{"s":"Earth","t":2007.64641,"v":1.0},{"s":"Earth","t":2007.64692,"v":1.24},{"s":"Earth","t":2007.64769,"v":0.72},{"s":"Earth","t":2007.64859,"v":0.36},{"s":"Earth","t":2007.64949,"v":0.3},{"s":"Earth","t":2007.65026,"v":1.33},{"s":"Earth","t":2007.65115,"v":1.84},{"s":"Earth","t":2007.65154,"v":2.27},{"s":"Earth","t":2007.65205,"v":2.4},{"s":"Earth","t":2007.65282,"v":3.22},{"s":"Earth","t":2007.65333,"v":3.56},{"s":"Earth","t":2007.6541,"v":3.73},{"s":"Earth","t":2007.65462,"v":3.9},{"s":"Earth","t":2007.655,"v":4.16},{"s":"Earth","t":2007.65538,"v":3.04},{"s":"Earth","t":2007.6559,"v":1.84},{"s":"Earth","t":2007.65628,"v":1.33},{"s":"Earth","t":2007.65667,"v":1.6},{"s":"Earth","t":2007.65718,"v":1.67},{"s":"Earth","t":2007.65795,"v":1.58},{"s":"Earth","t":2007.65885,"v":1.67},{"s":"Earth","t":2007.65949,"v":1.33},{"s":"Earth","t":2007.66051,"v":0.64},{"s":"Earth","t":2007.66179,"v":0.47},{"s":"Earth","t":2007.66308,"v":0.98},{"s":"Earth","t":2007.66397,"v":1.67},{"s":"Earth","t":2007.66487,"v":2.36},{"s":"Earth","t":2007.66564,"v":2.53},{"s":"Earth","t":2007.66654,"v":2.19},{"s":"Earth","t":2007.66744,"v":1.84},{"s":"Earth","t":2007.66821,"v":1.33},{"s":"Earth","t":2007.6691,"v":2.19},{"s":"Earth","t":2007.67,"v":3.04},{"s":"Earth","t":2007.67077,"v":3.04},{"s":"Earth","t":2007.67167,"v":2.87},{"s":"Earth","t":2007.67256,"v":2.36},{"s":"Earth","t":2007.67333,"v":2.7},{"s":"Earth","t":2007.67423,"v":2.27},{"s":"Earth","t":2007.67513,"v":1.67},{"s":"Earth","t":2007.6759,"v":0.98},{"s":"Earth","t":2007.67679,"v":1.33},{"s":"Earth","t":2007.67769,"v":2.36},{"s":"Earth","t":2007.67833,"v":2.7},{"s":"Earth","t":2007.67897,"v":2.01},{"s":"Earth","t":2007.67974,"v":1.67},{"s":"Earth","t":2007.68064,"v":1.33},{"s":"Earth","t":2007.68154,"v":0.81},{"s":"Earth","t":2007.68231,"v":1.67},{"s":"Earth","t":2007.68321,"v":1.84},{"s":"Earth","t":2007.6841,"v":1.33},{"s":"Earth","t":2007.68487,"v":0.64},{"s":"Earth","t":2007.68551,"v":0.21},{"s":"Earth","t":2007.68667,"v":0.21},{"s":"Earth","t":2007.68744,"v":0.38},{"s":"Earth","t":2007.68833,"v":0.12},{"s":"Earth","t":2007.68923,"v":0.47},{"s":"Earth","t":2007.69,"v":0.12},{"s":"Earth","t":2007.6909,"v":0.3},{"s":"Earth","t":2007.69179,"v":0.47},{"s":"Earth","t":2007.69256,"v":0.12},{"s":"Earth","t":2007.69346,"v":0.98},{"s":"Earth","t":2007.69385,"v":1.67},{"s":"Earth","t":2007.69436,"v":2.7},
{"s":"Earth","t":2007.62205,"v":5.45,"g":"iso"},{"s":"Earth","t":2007.62218,"v":5.3,"g":"iso"},
{"s":"STEREO A","t":2007.62077,"v":1.7},{"s":"STEREO A","t":2007.62103,"v":1.75},{"s":"STEREO A","t":2007.62167,"v":2.1},{"s":"STEREO A","t":2007.62205,"v":2.05},{"s":"STEREO A","t":2007.62295,"v":1.84},{"s":"STEREO A","t":2007.62385,"v":1.41},{"s":"STEREO A","t":2007.62462,"v":1.33},{"s":"STEREO A","t":2007.6259,"v":1.15},{"s":"STEREO A","t":2007.62679,"v":0.95},{"s":"STEREO A","t":2007.62808,"v":0.9},{"s":"STEREO A","t":2007.62897,"v":0.7},{"s":"STEREO A","t":2007.62974,"v":0.9},{"s":"STEREO A","t":2007.63026,"v":0.64},{"s":"STEREO A","t":2007.63064,"v":1.2},{"s":"STEREO A","t":2007.63103,"v":1.9},{"s":"STEREO A","t":2007.63154,"v":3.45},{"s":"STEREO A","t":2007.63192,"v":3.5},{"s":"STEREO A","t":2007.63256,"v":3.3},{"s":"STEREO A","t":2007.63321,"v":2.3},{"s":"STEREO A","t":2007.6341,"v":1.3},{"s":"STEREO A","t":2007.63487,"v":0.6},{"s":"STEREO A","t":2007.63577,"v":0.3},{"s":"STEREO A","t":2007.63615,"v":0.05},{"s":"STEREO A","t":2007.63667,"v":0.2},{"s":"STEREO A","t":2007.63744,"v":1.33},{"s":"STEREO A","t":2007.63795,"v":1.5},{"s":"STEREO A","t":2007.63833,"v":1.2},{"s":"STEREO A","t":2007.63872,"v":0.75},{"s":"STEREO A","t":2007.63923,"v":0.3},{"s":"STEREO A","t":2007.63962,"v":0.1},{"s":"STEREO A","t":2007.64051,"v":0.38},{"s":"STEREO A","t":2007.6409,"v":0.57},{"s":"STEREO A","t":2007.64179,"v":1.4},{"s":"STEREO A","t":2007.64244,"v":1.7},{"s":"STEREO A","t":2007.64308,"v":1.2},{"s":"STEREO A","t":2007.64385,"v":0.85},{"s":"STEREO A","t":2007.64474,"v":0.64},{"s":"STEREO A","t":2007.64564,"v":0.2},{"s":"STEREO A","t":2007.64641,"v":0.08},{"s":"STEREO A","t":2007.64731,"v":0.9},{"s":"STEREO A","t":2007.64795,"v":2.1},{"s":"STEREO A","t":2007.64859,"v":3.0},{"s":"STEREO A","t":2007.64897,"v":3.9},{"s":"STEREO A","t":2007.64923,"v":4.59},{"s":"STEREO A","t":2007.64949,"v":4.5},{"s":"STEREO A","t":2007.64987,"v":4.08},{"s":"STEREO A","t":2007.65077,"v":4.16},{"s":"STEREO A","t":2007.65154,"v":4.0},{"s":"STEREO A","t":2007.65244,"v":3.73},{"s":"STEREO A","t":2007.65333,"v":3.39},{"s":"STEREO A","t":2007.6541,"v":3.13},{"s":"STEREO A","t":2007.655,"v":2.75},{"s":"STEREO A","t":2007.6559,"v":2.7},{"s":"STEREO A","t":2007.65667,"v":2.62},{"s":"STEREO A","t":2007.65756,"v":2.27},{"s":"STEREO A","t":2007.65846,"v":1.33},{"s":"STEREO A","t":2007.6591,"v":0.47},{"s":"STEREO A","t":2007.65949,"v":0.12},{"s":"STEREO A","t":2007.66013,"v":0.75},{"s":"STEREO A","t":2007.66141,"v":0.73},{"s":"STEREO A","t":2007.66269,"v":0.47},{"s":"STEREO A","t":2007.66359,"v":0.21},{"s":"STEREO A","t":2007.66487,"v":0.12},{"s":"STEREO A","t":2007.66564,"v":0.64},{"s":"STEREO A","t":2007.66654,"v":1.33},{"s":"STEREO A","t":2007.66744,"v":1.84},{"s":"STEREO A","t":2007.66872,"v":2.7},{"s":"STEREO A","t":2007.66936,"v":3.04},{"s":"STEREO A","t":2007.67,"v":2.7},{"s":"STEREO A","t":2007.67077,"v":2.53},{"s":"STEREO A","t":2007.67205,"v":2.19},{"s":"STEREO A","t":2007.67333,"v":2.01},{"s":"STEREO A","t":2007.67462,"v":1.58},{"s":"STEREO A","t":2007.67551,"v":1.15},{"s":"STEREO A","t":2007.67641,"v":1.67},{"s":"STEREO A","t":2007.67718,"v":2.01},{"s":"STEREO A","t":2007.67808,"v":2.36},{"s":"STEREO A","t":2007.67897,"v":2.44},{"s":"STEREO A","t":2007.68026,"v":1.84},{"s":"STEREO A","t":2007.68154,"v":2.1},{"s":"STEREO A","t":2007.68231,"v":2.36},{"s":"STEREO A","t":2007.68321,"v":2.01},{"s":"STEREO A","t":2007.68449,"v":1.15},{"s":"STEREO A","t":2007.68538,"v":0.47},{"s":"STEREO A","t":2007.68615,"v":0.98},{"s":"STEREO A","t":2007.68705,"v":1.33},{"s":"STEREO A","t":2007.68795,"v":1.15},{"s":"STEREO A","t":2007.68872,"v":0.21},{"s":"STEREO A","t":2007.68962,"v":0.3},{"s":"STEREO A","t":2007.69051,"v":0.12},{"s":"STEREO A","t":2007.69128,"v":0.47},{"s":"STEREO A","t":2007.69218,"v":0.12},{"s":"STEREO A","t":2007.69282,"v":0.55},{"s":"STEREO A","t":2007.69346,"v":1.67},{"s":"STEREO A","t":2007.69385,"v":2.27},{"s":"STEREO A","t":2007.69436,"v":2.2},
{"s":"STEREO A","t":2007.62128,"v":2.4,"g":"iso"},{"s":"STEREO A","t":2007.62154,"v":4.6,"g":"iso"},{"s":"STEREO A","t":2007.62167,"v":4.75,"g":"iso"},{"s":"STEREO A","t":2007.62179,"v":4.55,"g":"iso"},{"s":"STEREO A","t":2007.62192,"v":3.6,"g":"iso"}
],
"pmod":[
{"s":"STEREO B","t":2007.62077,"v":-1.3},{"s":"STEREO B","t":2007.64269,"v":1.3},{"s":"STEREO B","t":2007.64782,"v":-1.3},{"s":"STEREO B","t":2007.6691,"v":1.3},{"s":"STEREO B","t":2007.69436,"v":1.3},
{"s":"Earth","t":2007.62077,"v":-1.15},{"s":"Earth","t":2007.63987,"v":1.15},{"s":"Earth","t":2007.64603,"v":-1.15},{"s":"Earth","t":2007.66603,"v":1.15},{"s":"Earth","t":2007.69179,"v":-1.15},{"s":"Earth","t":2007.69436,"v":-1.15},
{"s":"STEREO A","t":2007.62077,"v":-1.45},{"s":"STEREO A","t":2007.63846,"v":1.45},{"s":"STEREO A","t":2007.64577,"v":-1.45},{"s":"STEREO A","t":2007.66397,"v":1.45},{"s":"STEREO A","t":2007.69038,"v":-1.45},{"s":"STEREO A","t":2007.69436,"v":-1.45}
],
"pobs":[
{"s":"STEREO B","t0":2007.62077,"t1":2007.62513,"v":0.85},{"s":"STEREO B","t0":2007.63513,"t1":2007.63551,"v":0.85},{"s":"STEREO B","t0":2007.64462,"t1":2007.64603,"v":0.85},{"s":"STEREO B","t0":2007.65038,"t1":2007.65115,"v":0.85},{"s":"STEREO B","t0":2007.66551,"t1":2007.66821,"v":0.85},{"s":"STEREO B","t0":2007.66936,"t1":2007.68833,"v":0.85},{"s":"STEREO B","t0":2007.68897,"t1":2007.69051,"v":0.85},{"s":"STEREO B","t0":2007.69115,"t1":2007.69436,"v":0.85},
{"s":"STEREO B","t0":2007.62462,"t1":2007.64462,"v":-0.85},{"s":"STEREO B","t0":2007.64628,"t1":2007.65051,"v":-0.85},{"s":"STEREO B","t0":2007.6509,"t1":2007.66577,"v":-0.85},{"s":"STEREO B","t0":2007.66795,"t1":2007.66949,"v":-0.85},{"s":"STEREO B","t0":2007.68808,"t1":2007.68923,"v":-0.85},{"s":"STEREO B","t0":2007.69013,"t1":2007.69154,"v":-0.85},
{"s":"Earth","t0":2007.62077,"t1":2007.62231,"v":0.7},{"s":"Earth","t0":2007.63154,"t1":2007.63269,"v":0.7},{"s":"Earth","t0":2007.63744,"t1":2007.64051,"v":0.7},{"s":"Earth","t0":2007.64795,"t1":2007.65,"v":0.7},{"s":"Earth","t0":2007.66013,"t1":2007.66167,"v":0.7},{"s":"Earth","t0":2007.66795,"t1":2007.68615,"v":0.7},{"s":"Earth","t0":2007.68756,"t1":2007.69013,"v":0.7},{"s":"Earth","t0":2007.69192,"t1":2007.69308,"v":0.7},
{"s":"Earth","t0":2007.62205,"t1":2007.63179,"v":-0.7},{"s":"Earth","t0":2007.63231,"t1":2007.63782,"v":-0.7},{"s":"Earth","t0":2007.64026,"t1":2007.64808,"v":-0.7},{"s":"Earth","t0":2007.64974,"t1":2007.66821,"v":-0.7},{"s":"Earth","t0":2007.68577,"t1":2007.68795,"v":-0.7},{"s":"Earth","t0":2007.69038,"t1":2007.69231,"v":-0.7},{"s":"Earth","t0":2007.69269,"t1":2007.69436,"v":-0.7},
{"s":"STEREO A","t0":2007.635,"t1":2007.6368,"v":1},{"s":"STEREO A","t0":2007.63897,"t1":2007.64038,"v":1},{"s":"STEREO A","t0":2007.64654,"t1":2007.64756,"v":1},{"s":"STEREO A","t0":2007.6591,"t1":2007.66167,"v":1},{"s":"STEREO A","t0":2007.66179,"t1":2007.66397,"v":1},{"s":"STEREO A","t0":2007.66474,"t1":2007.68923,"v":1},{"s":"STEREO A","t0":2007.69282,"t1":2007.6941,"v":1},
{"s":"STEREO A","t0":2007.62077,"t1":2007.63474,"v":-1},{"s":"STEREO A","t0":2007.63667,"t1":2007.63923,"v":-1},{"s":"STEREO A","t0":2007.64013,"t1":2007.64692,"v":-1},{"s":"STEREO A","t0":2007.64718,"t1":2007.65949,"v":-1},{"s":"STEREO A","t0":2007.66128,"t1":2007.66218,"v":-1},{"s":"STEREO A","t0":2007.66372,"t1":2007.665,"v":-1},{"s":"STEREO A","t0":2007.68897,"t1":2007.69321,"v":-1},{"s":"STEREO A","t0":2007.69372,"t1":2007.69436,"v":-1}
]
},
"vconcat":[
{
"width":573,"height":156,
"view":{"stroke":"#1a1a1a","strokeWidth":1.6},
"resolve":{"axis":{"x":"independent","y":"independent"}},
"layer":[
{"data":{"name":"vmod"},
 "mark":{"type":"line","strokeWidth":1.5,"interpolate":"monotone","clip":true},
 "encoding":{
  "x":{"field":"t","type":"quantitative","scale":{"domain":[2007.620769,2007.694231],"nice":false,"zero":false},"axis":{"orient":"bottom","values":[2007.64,2007.66,2007.68],"grid":true,"labels":false,"ticks":false,"title":null,"minExtent":0,"maxExtent":0}},
  "y":{"field":"v","type":"quantitative","scale":{"domain":[200,800],"nice":false,"zero":false},"axis":{"orient":"left","values":[200,400,600,800],"grid":true,"ticks":false,"labelPadding":16,"title":"V (km/s)","titlePadding":14,"minExtent":47,"maxExtent":47}},
  "color":{"field":"s","type":"nominal","scale":{"domain":["STEREO A","Earth","STEREO B"],"range":["#ff1111","#1111ff","#22c322"]},
   "legend":{"orient":"none","legendX":11,"legendY":16,"title":null,"direction":"vertical","symbolType":"M-3.7,0H3.7","symbolSize":289,"symbolStrokeWidth":1.5,"symbolOffset":39,"labelFontSize":14.5,"labelColor":"#222","labelAlign":"left","labelOffset":31,"padding":1,"rowPadding":3,"strokeColor":"#222"}}
 }},
{"data":{"name":"vobs"},
 "mark":{"type":"line","strokeWidth":2.5,"clip":true},
 "encoding":{
  "x":{"field":"t","type":"quantitative","axis":{"orient":"bottom","values":[2007.625,2007.63,2007.635,2007.64,2007.645,2007.65,2007.655,2007.66,2007.665,2007.67,2007.675,2007.68,2007.685,2007.69],"grid":false,"labels":false,"ticks":true,"tickSize":-4,"title":null,"minExtent":0,"maxExtent":0}},
  "y":{"field":"v","type":"quantitative","axis":{"orient":"left","values":[250,300,350,400,450,500,550,600,650,700,750],"grid":false,"labels":false,"ticks":true,"tickSize":-8,"title":null,"minExtent":0,"maxExtent":0}},
  "color":{"field":"s","type":"nominal","legend":null}
 }},
{"data":{"name":"vobs"},
 "mark":{"type":"point","shape":"square","filled":false,"size":16,"strokeWidth":1,"opacity":1,"clip":true},
 "encoding":{
  "x":{"field":"t","type":"quantitative","axis":{"orient":"top","values":[2007.625,2007.63,2007.635,2007.64,2007.645,2007.65,2007.655,2007.66,2007.665,2007.67,2007.675,2007.68,2007.685,2007.69],"grid":false,"labels":false,"ticks":true,"tickSize":-4,"title":null,"minExtent":0,"maxExtent":0}},
  "y":{"field":"v","type":"quantitative","axis":{"orient":"right","values":[250,300,350,400,450,500,550,600,650,700,750],"grid":false,"labels":false,"ticks":true,"tickSize":-8,"title":null,"minExtent":0,"maxExtent":0}},
  "color":{"field":"s","type":"nominal","legend":null}
 }}
]
},
{
"width":573,"height":155,
"view":{"stroke":"#1a1a1a","strokeWidth":1.6},
"resolve":{"axis":{"x":"independent","y":"independent"}},
"layer":[
{"data":{"name":"bmod"},
 "mark":{"type":"line","strokeWidth":1.5,"interpolate":"monotone","clip":true},
 "encoding":{
  "x":{"field":"t","type":"quantitative","scale":{"domain":[2007.620769,2007.694231],"nice":false,"zero":false},"axis":{"orient":"bottom","values":[2007.64,2007.66,2007.68],"grid":true,"labels":false,"ticks":false,"title":null,"minExtent":0,"maxExtent":0}},
  "y":{"field":"v","type":"quantitative","scale":{"domain":[0,8],"nice":false,"zero":false},"axis":{"orient":"left","values":[0,2,4,6,8],"grid":true,"ticks":false,"labelPadding":16,"title":"Br (nT)","titlePadding":14,"minExtent":47,"maxExtent":47}},
  "color":{"field":"s","type":"nominal","scale":{"domain":["STEREO A","Earth","STEREO B"],"range":["#ff1111","#1111ff","#22c322"]},"legend":null}
 }},
{"data":{"name":"bobs"},
 "transform":[{"filter":"datum.g != 'iso'"}],
 "mark":{"type":"line","strokeWidth":2.5,"clip":true},
 "encoding":{
  "x":{"field":"t","type":"quantitative","axis":{"orient":"bottom","values":[2007.625,2007.63,2007.635,2007.64,2007.645,2007.65,2007.655,2007.66,2007.665,2007.67,2007.675,2007.68,2007.685,2007.69],"grid":false,"labels":false,"ticks":true,"tickSize":-4,"title":null,"minExtent":0,"maxExtent":0}},
  "y":{"field":"v","type":"quantitative","axis":{"orient":"left","values":[0.5,1,1.5,2,2.5,3,3.5,4,4.5,5,5.5,6,6.5,7,7.5],"grid":false,"labels":false,"ticks":true,"tickSize":-8,"title":null,"minExtent":0,"maxExtent":0}},
  "color":{"field":"s","type":"nominal","legend":null}
 }},
{"data":{"name":"bobs"},
 "mark":{"type":"point","shape":"square","filled":false,"size":16,"strokeWidth":1,"opacity":1,"clip":true},
 "encoding":{
  "x":{"field":"t","type":"quantitative","axis":{"orient":"top","values":[2007.625,2007.63,2007.635,2007.64,2007.645,2007.65,2007.655,2007.66,2007.665,2007.67,2007.675,2007.68,2007.685,2007.69],"grid":false,"labels":false,"ticks":true,"tickSize":-4,"title":null,"minExtent":0,"maxExtent":0}},
  "y":{"field":"v","type":"quantitative","axis":{"orient":"right","values":[0.5,1,1.5,2,2.5,3,3.5,4,4.5,5,5.5,6,6.5,7,7.5],"grid":false,"labels":false,"ticks":true,"tickSize":-8,"title":null,"minExtent":0,"maxExtent":0}},
  "color":{"field":"s","type":"nominal","legend":null}
 }}
]
},
{
"width":573,"height":156,
"view":{"stroke":"#444","strokeWidth":1.2},
"layer":[
{"data":{"name":"pobs"},
 "mark":{"type":"rule","strokeWidth":4.5,"strokeCap":"round","clip":true},
 "encoding":{
  "x":{"field":"t0","type":"quantitative","scale":{"domain":[2007.620769,2007.694231],"nice":false,"zero":false},"axis":{"orient":"bottom","values":[2007.64,2007.66,2007.68],"format":".2f","grid":false,"ticks":false,"labelPadding":13.5,"title":"Time (decimal year)","titlePadding":12}},
  "x2":{"field":"t1"},
  "y":{"field":"v","type":"quantitative","scale":{"domain":[-2,2],"nice":false,"zero":false},"axis":{"orient":"left","values":[-2,-1,0,1,2],"labelExpr":"'' + datum.value","grid":false,"ticks":false,"labelPadding":16,"title":"Br Polarity","titlePadding":14,"minExtent":47,"maxExtent":47}},
  "color":{"field":"s","type":"nominal","scale":{"domain":["STEREO A","Earth","STEREO B"],"range":["#ff1111","#1111ff","#22c322"]},"legend":null}
 }},
{"data":{"name":"pmod"},
 "mark":{"type":"line","interpolate":"step-after","strokeWidth":1.5,"clip":true},
 "encoding":{
  "x":{"field":"t","type":"quantitative","axis":{"orient":"bottom","values":[2007.64,2007.66,2007.68],"format":".2f","grid":false,"ticks":false,"labelPadding":13.5,"title":"Time (decimal year)","titlePadding":12}},
  "y":{"field":"v","type":"quantitative","axis":{"orient":"left","values":[-2,-1,0,1,2],"labelExpr":"'' + datum.value","grid":false,"ticks":false,"labelPadding":16,"title":"Br Polarity","titlePadding":14,"minExtent":47,"maxExtent":47}},
  "color":{"field":"s","type":"nominal","legend":null}
 }}
]
}
]
}
